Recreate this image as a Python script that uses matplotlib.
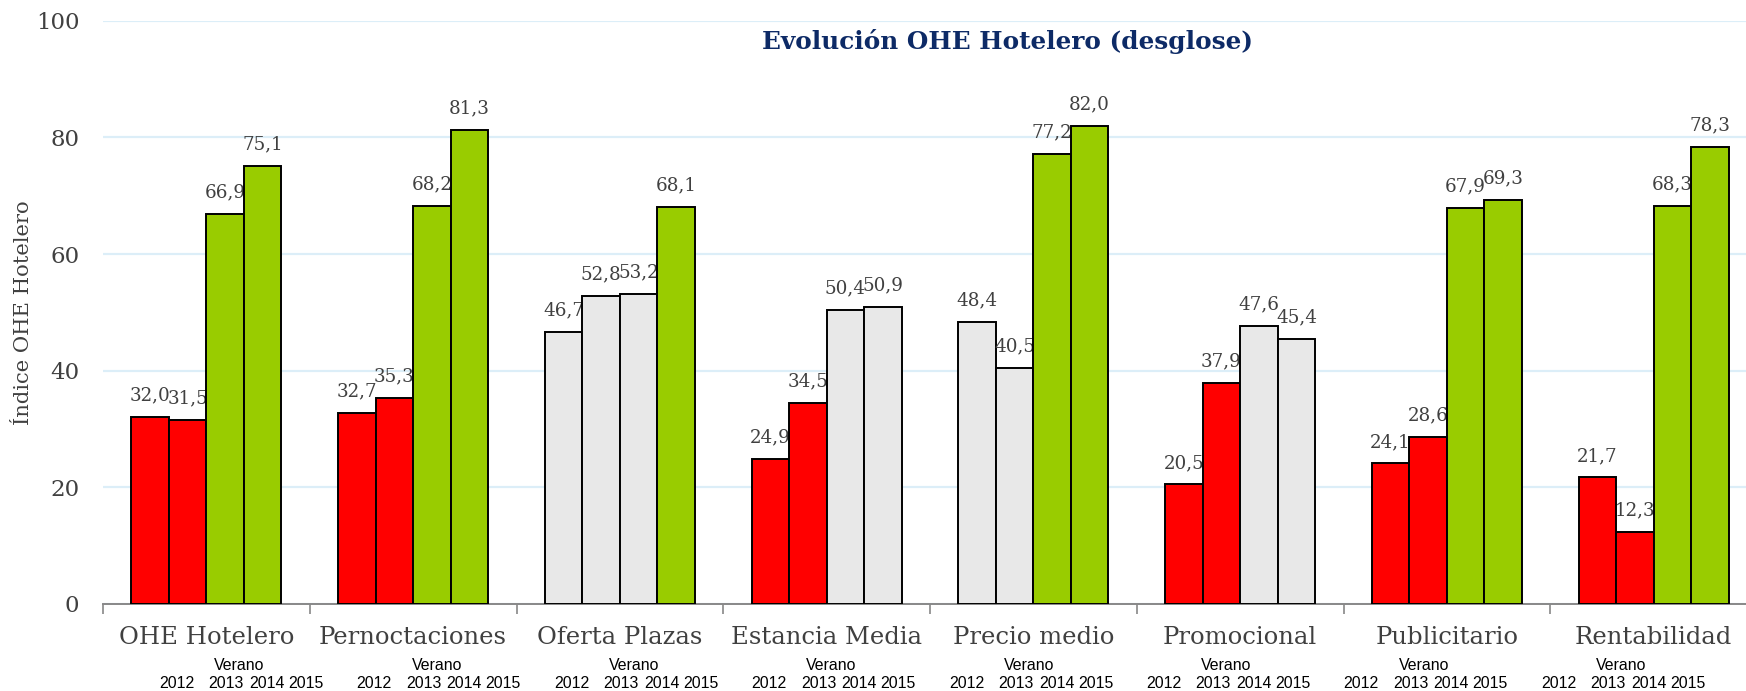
import matplotlib.pyplot as plt
import matplotlib.transforms as mtransforms
import numpy as np

categories = ["OHE Hotelero", "Pernoctaciones", "Oferta Plazas", "Estancia Media",
              "Precio medio", "Promocional", "Publicitario", "Rentabilidad"]
years = ["2012", "2013", "2014", "2015"]
v2012 = [32.0, 32.7, 46.7, 24.9, 48.4, 20.5, 24.1, 21.7]
v2013 = [31.5, 35.3, 52.8, 34.5, 40.5, 37.9, 28.6, 12.3]
v2014 = [66.9, 68.2, 53.2, 50.4, 77.2, 47.6, 67.9, 68.3]
v2015 = [75.1, 81.3, 68.1, 50.9, 82.0, 45.4, 69.3, 78.3]
series = [v2012, v2013, v2014, v2015]

W, H = 1746, 691


def bar_color(v):
    # semaforo: rojo < 40, gris 40-60, verde > 60
    if v < 40:
        return "#FF0000"
    if v < 60:
        return "#E8E8E8"
    return "#99CC00"


fig = plt.figure(figsize=(W / 100, H / 100), dpi=100)
ax = fig.add_axes([103 / W, 87 / H, 1654 / W, 583.3 / H])

x = np.arange(len(categories))
bw = 0.1815
text_col = "#404040"
serif = "DejaVu Serif"

for j, vals in enumerate(series):
    pos = x + (j - 1.5) * bw
    ax.bar(pos, vals, width=bw, color=[bar_color(v) for v in vals],
           edgecolor="black", linewidth=1.4, zorder=3)
    for px, v in zip(pos, vals):
        ax.annotate("{:.1f}".format(v).replace(".", ","), (px, v),
                    xytext=(0, 9), textcoords="offset points",
                    ha="center", va="bottom", fontsize=13.2,
                    family=serif, color=text_col)

ax.set_ylim(0, 100)
ax.set_xlim(-0.5, len(categories) - 0.5)
ax.set_yticks([0, 20, 40, 60, 80, 100])
ax.tick_params(axis="y", length=0, pad=17, labelsize=16.5, labelcolor=text_col)
for lab in ax.get_yticklabels():
    lab.set_family(serif)
ax.yaxis.grid(True, color="#DCEEF8", linewidth=1.6, zorder=0)
ax.set_axisbelow(True)

ax.set_xticks(np.arange(-0.5, len(categories), 1.0))
ax.set_xticklabels([])
ax.tick_params(axis="x", length=7, width=1.2, color="#888888", direction="out")

for s in ["top", "right", "left"]:
    ax.spines[s].set_visible(False)
ax.spines["bottom"].set_color("#888888")
ax.spines["bottom"].set_linewidth(1.4)

trans = mtransforms.blended_transform_factory(ax.transData, ax.transAxes)
for i, c in enumerate(categories):
    ax.text(i, -0.058, c, transform=trans, ha="center", va="center",
            fontsize=17.5, family=serif, color=text_col)

ax.set_ylabel("Índice OHE Hotelero", family=serif, fontsize=15.2, color=text_col,
              labelpad=2)

fig.text(1008 / W, 1 - 42 / H, "Evolución OHE Hotelero (desglose)",
         ha="center", va="center", fontsize=17.8, fontweight="bold",
         family=serif, color="#0D2A66")

# etiquetas de año bajo cada grupo
year_offsets = [0, 49.5, 90, 129]
for i in range(len(categories)):
    left = 159.2 + i * 197.4
    fig.text((left + 55) / W, 1 - 665 / H, "Verano", ha="left", va="center",
             fontsize=11.4, family="Liberation Sans", color="black")
    for yr, off in zip(years, year_offsets):
        fig.text((left + off) / W, 1 - 684 / H, yr, ha="left", va="center",
                 fontsize=11.4, family="Liberation Sans", color="black")

fig.savefig("out.png", dpi=100)
